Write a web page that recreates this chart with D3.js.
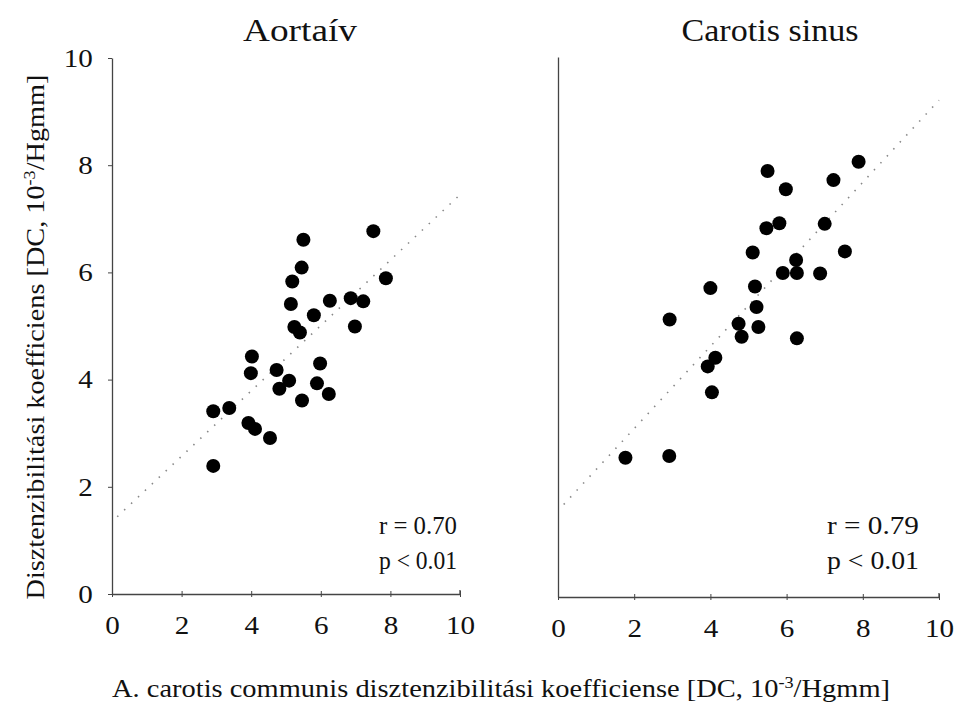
<!DOCTYPE html>
<html><head><meta charset="utf-8">
<script src="https://cdn.jsdelivr.net/npm/d3@7"></script>
<style>body{margin:0;background:#fff}svg text{font-family:"Liberation Serif","Times New Roman",serif;fill:#111}</style>
</head><body>
<svg id="c" width="954" height="709"></svg>
<script>
const panelTitles = ["Aortaív", "Carotis sinus"];
const xTicks = [0, 2, 4, 6, 8, 10];
const yTicks = [0, 2, 4, 6, 8, 10];
const aortaX = [7.51,5.50,5.45,7.87,5.18,6.26,6.86,7.22,5.14,5.80,5.24,5.40,6.98,4.02,3.99,4.73,5.98,5.09,4.81,5.89,6.23,5.46,2.91,3.37,3.92,4.11,4.54,2.91];
const aortaY = [6.77,6.61,6.09,5.89,5.83,5.47,5.52,5.46,5.41,5.20,4.98,4.88,4.99,4.43,4.12,4.18,4.30,3.98,3.83,3.93,3.73,3.61,3.41,3.47,3.19,3.08,2.91,2.39];
const sinusX = [7.89,5.50,7.23,5.98,5.81,5.47,7.00,7.53,5.11,6.25,5.90,6.27,6.88,4.00,5.17,5.21,2.93,4.74,5.26,4.82,6.27,4.13,3.93,4.04,1.77,2.92];
const sinusY = [8.06,7.89,7.72,7.55,6.92,6.83,6.91,6.40,6.38,6.24,6.00,6.00,5.99,5.72,5.75,5.37,5.14,5.06,5.00,4.82,4.79,4.43,4.27,3.79,2.58,2.61];
const fitLines = [[1.35, 0.61], [1.6, 0.76]];   // intercept, slope
const stats = [["r = 0.70", "p < 0.01"], ["r = 0.79", "p < 0.01"]];
const yTitle = "Disztenzibilitási koefficiens [DC, 10";
const xTitle = "A. carotis communis disztenzibilitási koefficiense [DC, 10";

const svg = d3.select("#c");
const panels = [
  {xs: aortaX, ys: aortaY, xr: [112, 460], yr: [594, 58], labels: true, titleX: 300, titleW: 114, statEnd: 457},
  {xs: sinusX, ys: sinusY, xr: [558, 939], yr: [597, 57], labels: false, titleX: 770, titleW: 177, statEnd: 919}
];

panels.forEach((p, i) => {
  const x = d3.scaleLinear().domain([0, 10]).range(p.xr);
  const y = d3.scaleLinear().domain([0, 10]).range(p.yr);
  const g = svg.append("g");

  // x axis
  const xa = g.append("g").attr("transform", `translate(0,${p.yr[0]})`)
    .call(d3.axisBottom(x).tickValues(xTicks).tickSize(4).tickSizeOuter(0).tickPadding(18));
  xa.attr("font-family", null).attr("font-size", null);
  xa.select(".domain").attr("stroke", "#444").attr("stroke-width", 1.3);
  xa.selectAll(".tick line").attr("stroke", "#444").attr("y1", -3).attr("y2", 3);
  xa.selectAll("text").style("font-size", "26px").attr("transform", "scale(1.12,1)");
  g.append("line").attr("x1", x(10)).attr("x2", x(10)).attr("y1", p.yr[0]).attr("y2", p.yr[0]-4).attr("stroke", "#444").attr("stroke-width", 1.3);

  // y axis
  const ya = g.append("g").attr("transform", `translate(${p.xr[0]},0)`)
    .call(d3.axisLeft(y).tickValues(p.labels ? yTicks : []).tickSize(p.labels ? 4 : 0).tickSizeOuter(0).tickPadding(13));
  ya.attr("font-family", null).attr("font-size", null);
  ya.select(".domain").attr("stroke", "#444").attr("stroke-width", 1.3);
  ya.selectAll(".tick line").attr("stroke", "#444");
  ya.selectAll("text").style("font-size", "26px").attr("transform", "translate(-17,0) scale(1.12,1)").attr("x", -2);

  // fit line
  const [b0, b1] = fitLines[i];
  g.append("line")
    .attr("x1", x(0.15)).attr("y1", y(b0 + b1 * 0.15))
    .attr("x2", x(10)).attr("y2", y(b0 + b1 * 10))
    .attr("stroke", "#888").attr("stroke-width", 1.6).attr("stroke-dasharray", "1.5,8");

  // points
  g.selectAll("circle").data(p.xs.map((v, k) => [v, p.ys[k]])).join("circle")
    .attr("cx", d => x(d[0])).attr("cy", d => y(d[1])).attr("r", 7).attr("fill", "#000");

  // title
  svg.append("text").attr("x", p.titleX).attr("y", 41)
    .attr("text-anchor", "middle").style("font-size", "31px")
    .attr("textLength", p.titleW).attr("lengthAdjust", "spacingAndGlyphs").text(panelTitles[i]);

  // stats
  stats[i].forEach((s, k) => {
    svg.append("text").attr("x", p.statEnd).attr("y", 534 + k * 35)
      .attr("text-anchor", "end").style("font-size", "25px")
      .attr("textLength", i === 0 ? 78 : 92).attr("lengthAdjust", "spacingAndGlyphs").text(s);
  });
});

// y title
const yt = svg.append("text").attr("transform", "translate(44,337) rotate(-90)")
  .attr("text-anchor", "middle").style("font-size", "25px")
  .attr("textLength", 525).attr("lengthAdjust", "spacingAndGlyphs");
yt.append("tspan").text(yTitle);
yt.append("tspan").attr("dy", -9).style("font-size", "16px").text("-3");
yt.append("tspan").attr("dy", 9).text("/Hgmm]");

// x title
const xt = svg.append("text").attr("x", 501).attr("y", 697)
  .attr("text-anchor", "middle").style("font-size", "25px")
  .attr("textLength", 778).attr("lengthAdjust", "spacingAndGlyphs");
xt.append("tspan").text(xTitle);
xt.append("tspan").attr("dy", -9).style("font-size", "16px").text("-3");
xt.append("tspan").attr("dy", 9).text("/Hgmm]");
</script>
</body></html>
